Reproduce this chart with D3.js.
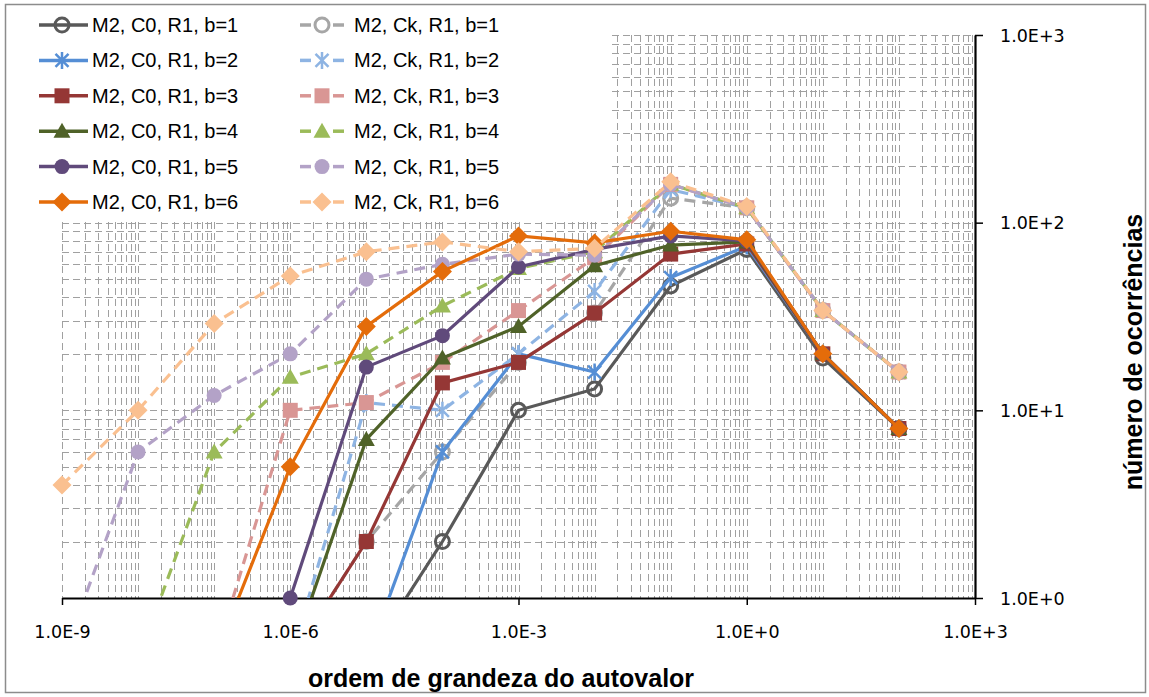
<!DOCTYPE html>
<html lang="pt">
<head>
<meta charset="UTF-8">
<title>Ocorrências por ordem de grandeza</title>
<script src="https://d3js.org/d3.v7.min.js"></script>
<style>
    body { margin: 0; background: #fff; }
    text { font-family: "Liberation Sans", Arial, sans-serif; }
</style>
</head>
<body>
<div id="chart"></div>
<script>
    var width = 1149, height = 697;

    // order of magnitude of the eigenvalue (x categories)
    var magnitudes = [1e-9, 1e-8, 1e-7, 1e-6, 1e-5, 1e-4, 1e-3, 1e-2, 1e-1, 1e0, 1e1, 1e2];
    var xTicks = [1e-9, 1e-6, 1e-3, 1e0, 1e3];
    var yTicks = [1, 10, 100, 1000];

    // number of occurrences (0 = none, Excel puts it below the log axis)
    var c0_b1 = [0, 0, 0, 0, 0, 2, 10, 13, 46, 72, 19, 8];
    var c0_b2 = [0, 0, 0, 0, 0, 6, 20, 16, 51, 75, 20, 8];
    var c0_b3 = [0, 0, 0, 0, 2, 14, 18, 33, 68, 77, 20, 8];
    var c0_b4 = [0, 0, 0, 0, 7, 19, 28, 59, 76, 79, 20, 8];
    var c0_b5 = [0, 0, 0, 1, 17, 25, 58, 72, 85, 80, 20, 8];
    var c0_b6 = [0, 0, 0, 5, 28, 55, 85, 78, 90, 81, 20, 8];
    var ck_b1 = [0, 0, 0, 0, 2, 6, 18, 33, 135, 120, 34, 16];
    var ck_b2 = [0, 0, 0, 0, 11, 10, 20, 43, 150, 120, 34, 16];
    var ck_b3 = [0, 0, 0, 10, 11, 18, 34, 65, 160, 120, 34, 16];
    var ck_b4 = [0, 0, 6, 15, 20, 36, 57, 70, 160, 120, 34, 16];
    var ck_b5 = [0, 6, 12, 20, 50, 60, 68, 67, 160, 120, 34, 16];
    var ck_b6 = [4, 10, 29, 52, 70, 79, 70, 73, 165, 122, 34, 16];

    var c0Names = ["M2, C0, R1, b=1", "M2, C0, R1, b=2", "M2, C0, R1, b=3", "M2, C0, R1, b=4", "M2, C0, R1, b=5", "M2, C0, R1, b=6"];
    var ckNames = ["M2, Ck, R1, b=1", "M2, Ck, R1, b=2", "M2, Ck, R1, b=3", "M2, Ck, R1, b=4", "M2, Ck, R1, b=5", "M2, Ck, R1, b=6"];
    var c0Colors = ["#595959", "#558ED5", "#953735", "#4F6228", "#604A7B", "#E46C0A"];
    var ckColors = ["#A6A6A6", "#8EB4E3", "#D99694", "#9BBB59", "#B3A2C7", "#FAC090"];
    var markers = ["ring", "star", "square", "triangle", "circle", "diamond"];

    // where a zero lands when drawn on the log axis
    var zeroValue = 0.47;

    var c0Values = [c0_b1, c0_b2, c0_b3, c0_b4, c0_b5, c0_b6];
    var ckValues = [ck_b1, ck_b2, ck_b3, ck_b4, ck_b5, ck_b6];

    // Excel draws them interleaved: C0 b=1, Ck b=1, C0 b=2, ...
    var series = [];
    for (var i = 0; i < 6; i++) {
        series.push({name: c0Names[i], values: c0Values[i], color: c0Colors[i], marker: markers[i], dashed: false});
        series.push({name: ckNames[i], values: ckValues[i], color: ckColors[i], marker: markers[i], dashed: true});
    }

    var plot = {left: 62, right: 975, top: 35, bottom: 598};

    var x = d3.scaleLog().domain([1e-9, 1e3]).range([plot.left, plot.right]);
    var y = d3.scaleLog().domain([1, 1000]).range([plot.bottom, plot.top]);

    function sciFmt(v) {
        var e = Math.round(Math.log10(v));
        return "1.0E" + (e < 0 ? "-" : "+") + Math.abs(e);
    }

    function markerPath(type) {
        if (type == "square") return "M-7.5,-7.5H7.5V7.5H-7.5Z";
        if (type == "diamond") return "M0,-9.5L9.5,0L0,9.5L-9.5,0Z";
        if (type == "triangle") return "M0,-8.5L8.5,6.5H-8.5Z";
        if (type == "star") return "M-6.5,-6.5L6.5,6.5M-6.5,6.5L6.5,-6.5M0,-8.5V8.5";
        if (type == "ring") return d3.symbol().type(d3.symbolCircle).size(Math.PI * 7 * 7)();
        return d3.symbol().type(d3.symbolCircle).size(Math.PI * 7.5 * 7.5)();
    }

    function styleMarker(sel, s) {
        if (s.marker == "ring") {
            sel.attr("fill", "none").attr("stroke", s.color).attr("stroke-width", 3);
        } else if (s.marker == "star") {
            sel.attr("fill", "none").attr("stroke", s.color).attr("stroke-width", 2.5);
        } else {
            sel.attr("fill", s.color).attr("stroke", "none");
        }
    }

    var svg = d3.select("#chart").append("svg")
        .attr("width", width)
        .attr("height", height);

    svg.append("rect")
        .attr("width", width).attr("height", height)
        .attr("fill", "#fff");

    // chart frame
    svg.append("rect")
        .attr("x", 5.5).attr("y", 4.5)
        .attr("width", 1140).attr("height", 688)
        .attr("fill", "none")
        .attr("stroke", "#8c8c8c")
        .attr("stroke-width", 1.5);

    // minor + major gridlines (every 1..9 x 10^k)
    var xGrid = [], yGrid = [];
    for (var k = -9; k <= 2; k++) {
        for (var m = 1; m <= 9; m++) xGrid.push(m * Math.pow(10, k));
    }
    for (var k = 0; k <= 2; k++) {
        for (var m = 1; m <= 9; m++) yGrid.push(m * Math.pow(10, k));
    }
    yGrid.push(1000);

    var grid = svg.append("g")
        .attr("stroke", "#a0a0a0")
        .attr("stroke-width", 1)
        .attr("stroke-dasharray", "7,4")
        .attr("shape-rendering", "crispEdges");

    grid.selectAll(".vg")
        .data(xGrid)
        .enter()
        .append("line")
        .attr("x1", function(d) { return Math.round(x(d)) + 0.5; })
        .attr("x2", function(d) { return Math.round(x(d)) + 0.5; })
        .attr("y1", plot.top)
        .attr("y2", plot.bottom);

    grid.selectAll(".hg")
        .data(yGrid)
        .enter()
        .append("line")
        .attr("x1", plot.left)
        .attr("x2", plot.right)
        .attr("y1", function(d) { return Math.round(y(d)) + 0.5; })
        .attr("y2", function(d) { return Math.round(y(d)) + 0.5; });

    // axes
    var xAxis = svg.append("g")
        .attr("transform", "translate(0," + plot.bottom + ")")
        .call(d3.axisBottom(x).tickValues(xTicks).tickFormat(sciFmt).tickSize(7).tickSizeOuter(0));

    var yAxis = svg.append("g")
        .attr("transform", "translate(" + plot.right + ",0)")
        .call(d3.axisRight(y).tickValues(yTicks).tickFormat(sciFmt).tickSize(8).tickSizeOuter(0));

    [xAxis, yAxis].forEach(function(a) {
        a.select(".domain").attr("stroke", "#000").attr("stroke-width", 2.2);
        a.selectAll(".tick line").attr("stroke", "#000").attr("stroke-width", 1.5);
        a.selectAll(".tick text")
            .attr("fill", "#000")
            .style("font-family", "'DejaVu Sans', sans-serif")
            .style("font-size", "17.5px");
    });
    xAxis.selectAll(".tick text").attr("dy", null).attr("y", 40);
    yAxis.selectAll(".tick text").attr("x", 25).attr("dy", "0.36em");

    // axis titles
    svg.append("text")
        .attr("x", 501)
        .attr("y", 687)
        .attr("text-anchor", "middle")
        .style("font-size", "25px")
        .style("font-weight", "bold")
        .text("ordem de grandeza do autovalor");

    svg.append("text")
        .attr("transform", "translate(1142,352) rotate(-90)")
        .attr("text-anchor", "middle")
        .style("font-size", "25px")
        .style("font-weight", "bold")
        .text("número de ocorrências");

    // clip lines so zeros run off below the axis
    svg.append("clipPath").attr("id", "plotclip")
        .append("rect")
        .attr("x", 0).attr("y", 0)
        .attr("width", plot.right).attr("height", plot.bottom);

    var line = d3.line()
        .x(function(d, i) { return x(magnitudes[i]); })
        .y(function(d) { return y(d > 0 ? d : zeroValue); });

    series.forEach(function(s) {
        var g = svg.append("g");
        g.append("path")
            .attr("clip-path", "url(#plotclip)")
            .attr("d", line(s.values))
            .attr("fill", "none")
            .attr("stroke", s.color)
            .attr("stroke-width", 3.2)
            .attr("stroke-dasharray", s.dashed ? "11,7" : null);

        var pts = s.values.map(function(v, i) { return {v: v, m: magnitudes[i]}; })
            .filter(function(p) { return p.v > 0; });

        g.selectAll(".mk")
            .data(pts)
            .enter()
            .append("path")
            .attr("transform", function(p) { return "translate(" + x(p.m) + "," + y(p.v) + ")"; })
            .attr("d", markerPath(s.marker))
            .call(styleMarker, s);
    });

    // legend (sits on top, white box)
    var legend = svg.append("g");
    legend.append("rect")
        .attr("x", 7).attr("y", 6)
        .attr("width", 605).attr("height", 214)
        .attr("fill", "#fff");

    var rowY = function(i) { return 25 + 35.4 * i; };

    for (var i = 0; i < 6; i++) {
        var s0 = {color: c0Colors[i], marker: markers[i]};
        var sk = {color: ckColors[i], marker: markers[i]};
        var ry = rowY(i);

        legend.append("line")
            .attr("x1", 39).attr("x2", 88)
            .attr("y1", ry).attr("y2", ry)
            .attr("stroke", s0.color).attr("stroke-width", 3.5);
        legend.append("path")
            .attr("transform", "translate(62," + ry + ")")
            .attr("d", markerPath(s0.marker))
            .call(styleMarker, s0);
        legend.append("text")
            .attr("x", 92).attr("y", ry)
            .attr("dy", "0.35em")
            .style("font-size", "20px")
            .text(c0Names[i]);

        legend.append("line")
            .attr("x1", 300).attr("x2", 311)
            .attr("y1", ry).attr("y2", ry)
            .attr("stroke", sk.color).attr("stroke-width", 3.5);
        legend.append("line")
            .attr("x1", 333).attr("x2", 344)
            .attr("y1", ry).attr("y2", ry)
            .attr("stroke", sk.color).attr("stroke-width", 3.5);
        legend.append("path")
            .attr("transform", "translate(322," + ry + ")")
            .attr("d", markerPath(sk.marker))
            .call(styleMarker, sk);
        legend.append("text")
            .attr("x", 354).attr("y", ry)
            .attr("dy", "0.35em")
            .style("font-size", "20px")
            .text(ckNames[i]);
    }
</script>
</body>
</html>
